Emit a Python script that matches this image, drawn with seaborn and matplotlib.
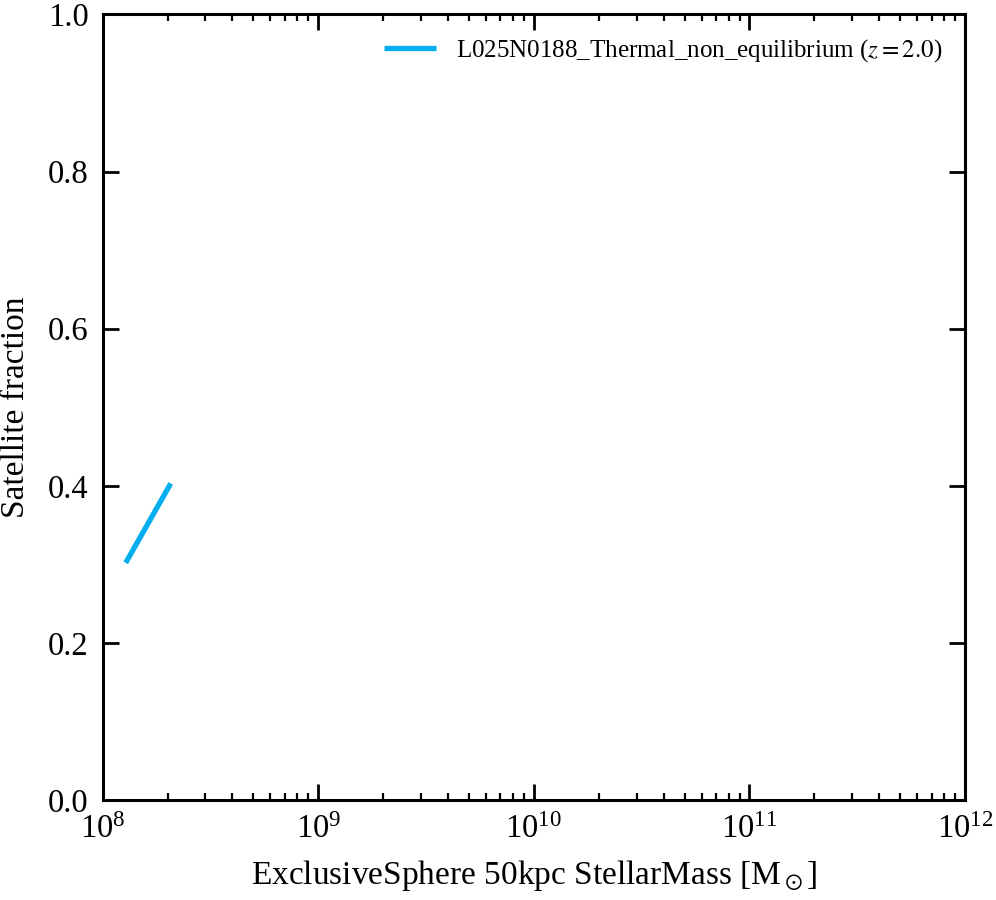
import matplotlib
matplotlib.use('Agg')
import matplotlib.pyplot as plt
import seaborn as sns
import pandas as pd

# Satellite fraction vs stellar mass
stellar_mass = [1.28e8, 2.07e8]
sat_fraction = [0.302, 0.403]
label = 'L025N0188_Thermal_non_equilibrium ($z = 2.0$)'

df = pd.DataFrame({'mass': stellar_mass, 'frac': sat_fraction})

sns.set_style('ticks')
plt.rcParams['font.family'] = ['Liberation Serif', 'DejaVu Serif']
plt.rcParams['mathtext.fontset'] = 'stix'
plt.rcParams['text.color'] = 'black'
plt.rcParams['axes.labelcolor'] = 'black'

fig, ax = plt.subplots(figsize=(9.96, 9.0), dpi=100)
sns.lineplot(data=df, x='mass', y='frac', ax=ax, color='#00AEEF', linewidth=3.8,
             label=label, solid_capstyle='butt')

ax.set_xscale('log')
ax.set_xlim(1e8, 1e12)
ax.set_ylim(0, 1)
ax.set_xlabel(r'ExclusiveSphere 50kpc StellarMass [M$_\odot$]', fontsize=24, labelpad=10)
ax.set_ylabel('Satellite fraction', fontsize=24, labelpad=12)

for s in ax.spines.values():
    s.set_linewidth(2.2)
    s.set_color('black')
ax.tick_params(which='both', direction='in', top=True, right=True, labelsize=23.5,
               colors='black')
ax.tick_params(which='major', length=11.5, width=2.0, pad=10)
ax.tick_params(which='minor', length=5, width=1.6)

leg = ax.legend(loc='upper right', frameon=False, fontsize=18, handlelength=2.1)
for line in leg.get_lines():
    line.set_solid_capstyle('butt')

plt.subplots_adjust(left=0.103, right=0.969, top=0.984, bottom=0.111)
plt.savefig('out.png', dpi=100)
